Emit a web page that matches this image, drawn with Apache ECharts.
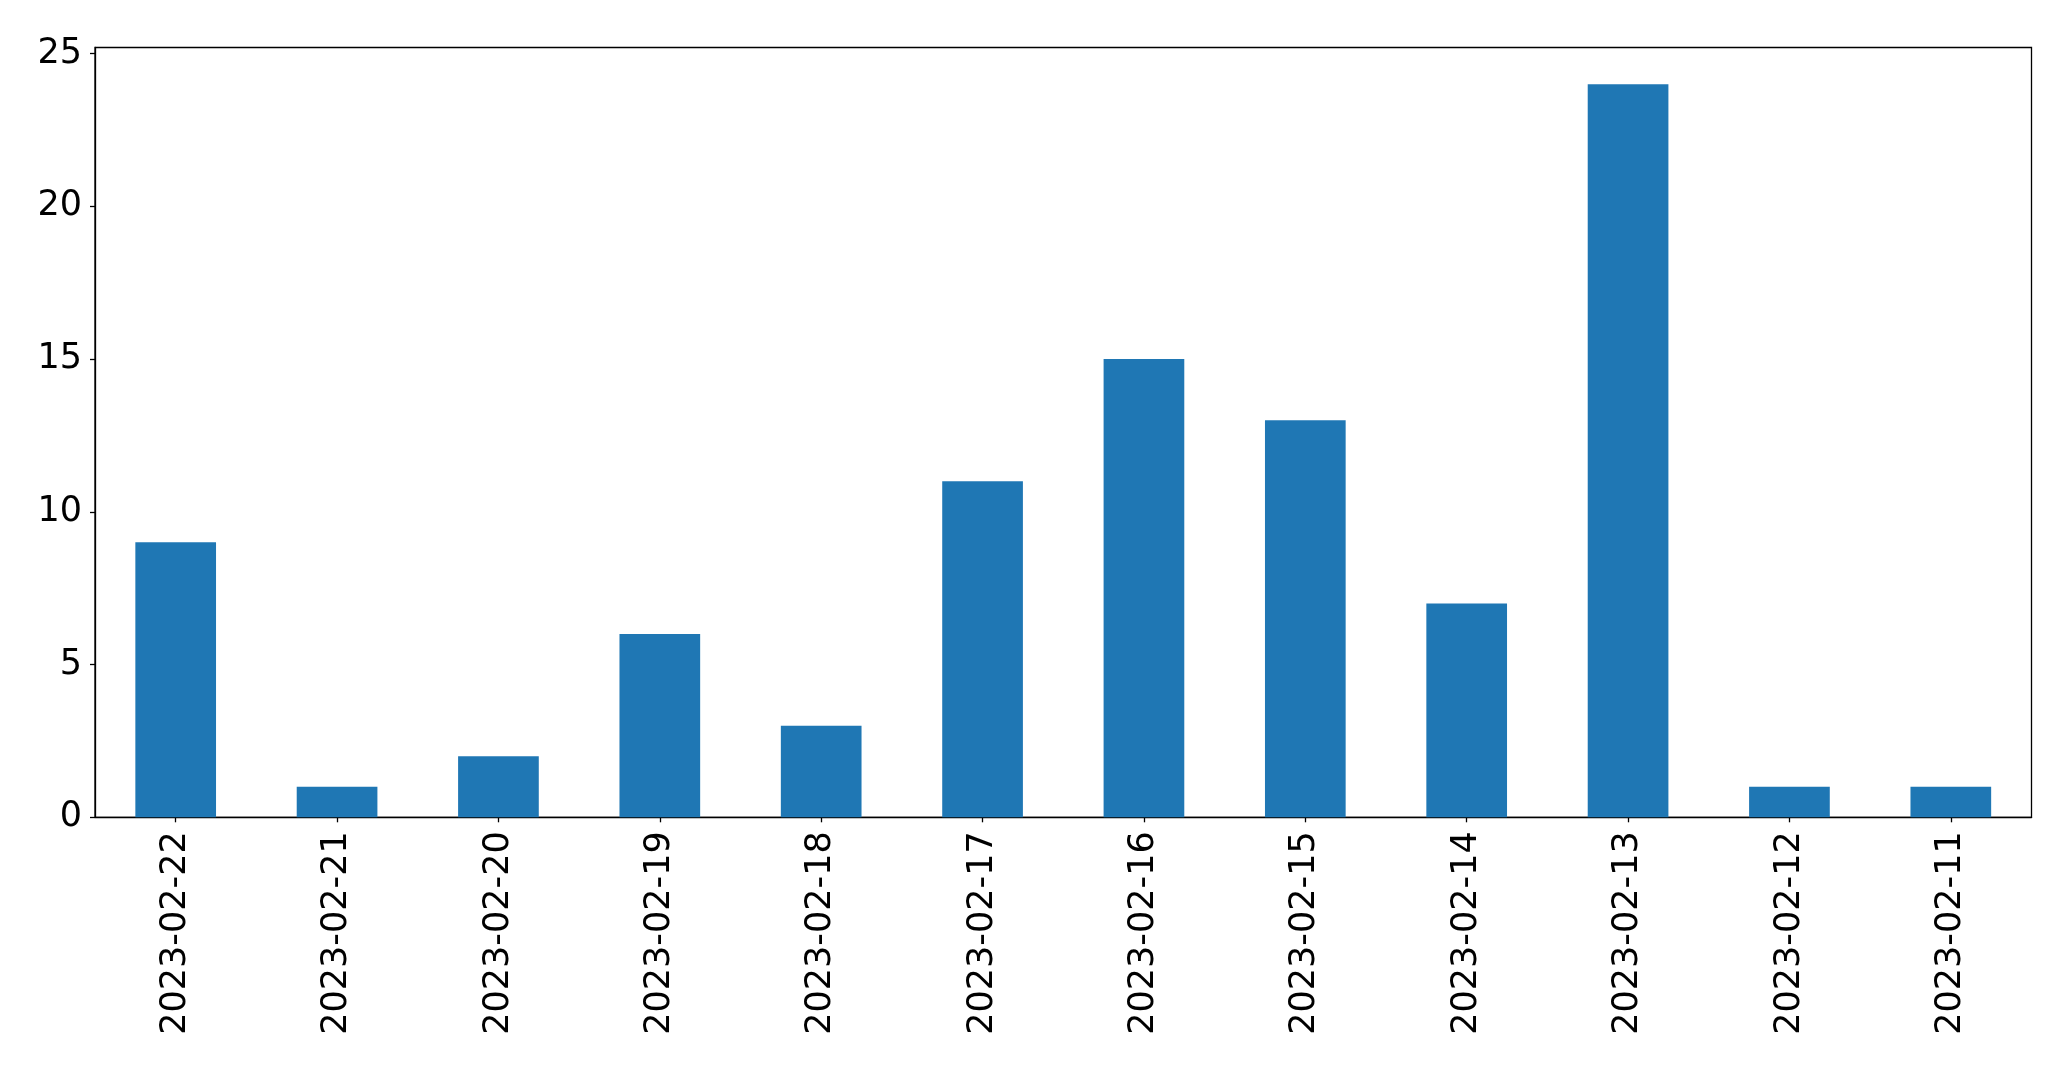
<!DOCTYPE html>
<html>
<head>
<meta charset="utf-8">
<script src="https://cdn.jsdelivr.net/npm/echarts@6/dist/echarts.min.js"></script>
<style>html,body{margin:0;padding:0;background:#fff}#c{width:2071px;height:1069px}</style>
</head>
<body>
<div id="c"></div>
<script>
const categories = ["2023-02-22","2023-02-21","2023-02-20","2023-02-19","2023-02-18","2023-02-17","2023-02-16","2023-02-15","2023-02-14","2023-02-13","2023-02-12","2023-02-11"];
const values = [9, 1, 2, 6, 3, 11, 15, 13, 7, 24, 1, 1];
const yTicks = [0, 5, 10, 15, 20, 25];

const chart = echarts.init(document.getElementById('c'), null, {renderer: 'canvas'});
const font = 'DejaVu Sans';
chart.setOption({
  animation: false,
  backgroundColor: '#ffffff',
  grid: {left: 95, right: 39.5, top: 47.5, bottom: 251.7, show: true, borderColor: '#000', borderWidth: 1.3, backgroundColor: 'transparent'},
  xAxis: {
    type: 'category',
    data: categories,
    axisLine: {show: true, lineStyle: {color: '#000', width: 1.3}},
    axisTick: {show: true, alignWithLabel: true, length: 5, lineStyle: {color: '#000', width: 1.3}},
    axisLabel: {rotate: 90, color: '#000', fontFamily: font, fontSize: 35, margin: 14, interval: 0},
    splitLine: {show: false}
  },
  yAxis: {
    type: 'value',
    min: 0,
    max: 25.2,
    interval: 5,
    axisLine: {show: true, lineStyle: {color: '#000', width: 1.3}},
    axisTick: {show: true, length: 5, lineStyle: {color: '#000', width: 1.3}, customValues: yTicks},
    axisLabel: {color: '#000', fontFamily: font, fontSize: 35, margin: 13, customValues: yTicks,
      formatter: v => (yTicks.includes(v) ? String(v) : '')},
    splitLine: {show: false}
  },
  series: [{
    type: 'bar',
    data: values,
    barWidth: '50%',
    itemStyle: {color: '#1f77b4'}
  }]
});
</script>
</body>
</html>
